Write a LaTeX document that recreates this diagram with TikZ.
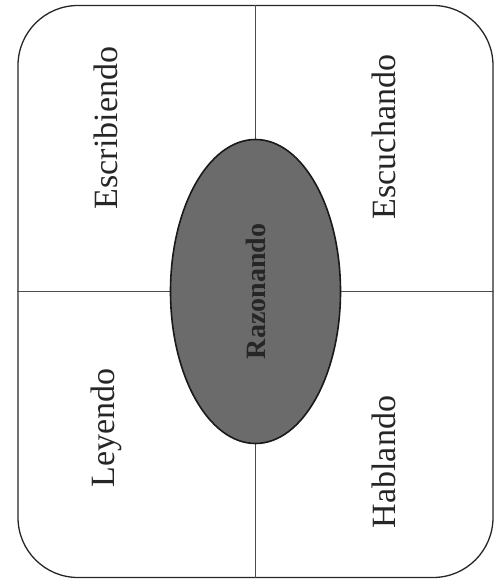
\documentclass[tikz,border=0pt]{standalone}
\usepackage{fontspec}
\setmainfont{Liberation Serif}
\usetikzlibrary{shapes.geometric,positioning}

\begin{document}
\begin{tikzpicture}[x=1pt, y=-1pt, every node/.style={inner sep=0pt},
  skill/.style={rotate=90, font=\fontsize{34}{34}\selectfont, text=black!85}]
  \useasboundingbox (0,0) rectangle (499,585);
  \node[draw=black!85, line width=1.3pt, rounded corners=60pt, minimum width=475pt, minimum height=572pt] (frame) at (255.5,291.5) {};
  \draw[black!70, line width=0.7pt] (frame.north) -- (frame.south);
  \draw[black!70, line width=0.7pt] (frame.west) -- (frame.east);
  \node[draw=black!90, line width=1.6pt, ellipse, fill=black!58, minimum width=170pt, minimum height=304pt] (core) at (frame.center) {};
  \node[rotate=90, font=\fontsize{28}{28}\selectfont\bfseries, text=black!85] (coretxt) at (core.center) {Razonando};
  \node[skill] (escribir) at (106,128) {Escribiendo};
  \node[skill] (escuchar) at (384,137) {Escuchando};
  \node[skill] (leer) at (106,428) {Leyendo};
  \node[skill] (hablar) at (384,462) {Hablando};
\end{tikzpicture}
\end{document}
